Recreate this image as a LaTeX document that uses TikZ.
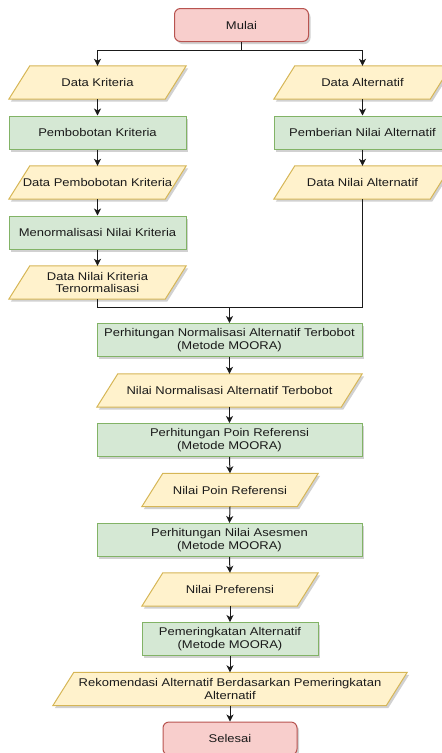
\documentclass[tikz,border=0pt]{standalone}
\usepackage{fontspec}
\setmainfont{Liberation Sans}[FakeStretch=1.16]
\usetikzlibrary{arrows.meta,shadows,calc}
\pgfdeclarelayer{background}
\pgfsetlayers{background,main}

\definecolor{gfill}{HTML}{D5E8D4}
\definecolor{gline}{HTML}{82B366}
\definecolor{yfill}{HTML}{FFF2CC}
\definecolor{yline}{HTML}{D6B656}
\definecolor{rfill}{HTML}{F8CECC}
\definecolor{rline}{HTML}{B85450}
\definecolor{ink}{HTML}{1A1A1A}

\tikzset{
  shad/.style={drop shadow={shadow xshift=2pt,shadow yshift=-2.5pt,fill=black,opacity=0.18}},
  base/.style={font=\fontsize{11.2}{12.7}\selectfont, align=center, inner sep=0pt, minimum height=33pt, text=ink},
  proc/.style={base, rectangle, draw=gline, fill=gfill, line width=1pt, shad},
  term/.style={base, rectangle, rounded corners=6pt, draw=rline, fill=rfill, line width=1pt, shad},
  io/.style={base, rectangle},
  iofill/.style={draw=yline, fill=yfill, line width=1pt, shad},
  ln/.style={draw=ink, line width=1pt},
  arr/.style={draw=ink, line width=1pt, -{Stealth[length=7pt,width=7pt,inset=2pt]}},
}

\newcommand{\ioshape}[1]{%
  \begin{pgfonlayer}{background}
  \path[iofill] ([xshift=21pt]#1.north west) -- (#1.north east) -- ([xshift=-21pt]#1.south east) -- (#1.south west) -- cycle;
  \end{pgfonlayer}}

\begin{document}
\begin{tikzpicture}[x=1pt,y=-1pt]
\useasboundingbox (0,0) rectangle (442,753);

% start
\node[term, minimum width=134pt] (mulai) at (241.5,25) {Mulai};

% left column
\node[io, minimum width=177pt] (dk) at (97.5,82.5) {Data Kriteria};
\ioshape{dk}
\node[proc, minimum width=177pt] (pk) at (97.5,132.5) {Pembobotan Kriteria};
\node[io, minimum width=177pt] (dpk) at (97.5,182.5) {Data Pembobotan Kriteria};
\ioshape{dpk}
\node[proc, minimum width=177pt] (mnk) at (97.5,232.5) {Menormalisasi Nilai Kriteria};
\node[io, minimum width=177pt] (dnk) at (97.5,282.5) {Data Nilai Kriteria\\Ternormalisasi};
\ioshape{dnk}

% right column
\node[io, minimum width=177pt] (da) at (362.5,82.5) {Data Alternatif};
\ioshape{da}
\node[proc, minimum width=177pt] (pna) at (362.5,132.5) {Pemberian Nilai Alternatif};
\node[io, minimum width=177pt] (dna) at (362.5,182.5) {Data Nilai Alternatif};
\ioshape{dna}

% main column
\coordinate (join) at (229.5,307);
\node[proc, minimum width=265pt] (pnat) at (229.5,340) {Perhitungan Normalisasi Alternatif Terbobot\\(Metode MOORA)};
\node[io, minimum width=265pt] (nnat) at (229.5,390.5) {Nilai Normalisasi Alternatif Terbobot};
\ioshape{nnat}
\node[proc, minimum width=265pt] (ppr) at (229.5,440) {Perhitungan Poin Referensi\\(Metode MOORA)};
\node[io, minimum width=176pt] (npr) at (230,490) {Nilai Poin Referensi};
\ioshape{npr}
\node[proc, minimum width=265pt] (pas) at (229.5,540) {Perhitungan Nilai Asesmen\\(Metode MOORA)};
\node[io, minimum width=176pt] (npref) at (230,589.5) {Nilai Preferensi};
\ioshape{npref}
\node[proc, minimum width=176pt] (pa) at (230,639) {Pemeringkatan Alternatif\\(Metode MOORA)};
\node[io, minimum width=354pt] (rek) at (230,689) {Rekomendasi Alternatif Berdasarkan Pemeringkatan\\Alternatif};
\ioshape{rek}
\node[term, minimum width=134pt] (sel) at (230,738.5) {Selesai};

% connectors
\draw[arr] (mulai.south) -- ++(0,8) -| (dk.north);
\draw[arr] (mulai.south) -- ++(0,8) -| (da.north);
\draw[arr] (dk.south) -- (pk.north);
\draw[arr] (pk.south) -- (dpk.north);
\draw[arr] (dpk.south) -- (mnk.north);
\draw[arr] (mnk.south) -- (dnk.north);
\draw[arr] (da.south) -- (pna.north);
\draw[arr] (pna.south) -- (dna.north);
\draw[ln] (dnk.south) |- (join);
\draw[ln] (dna.south) |- (join);
\draw[arr] (join) -- (pnat.north);
\draw[arr] (pnat.south) -- (nnat.north);
\draw[arr] (nnat.south) -- (ppr.north);
\draw[arr] (ppr.south) -- (npr.north);
\draw[arr] (npr.south) -- (pas.north);
\draw[arr] (pas.south) -- (npref.north);
\draw[arr] (npref.south) -- (pa.north);
\draw[arr] (pa.south) -- (rek.north);
\draw[arr] (rek.south) -- (sel.north);
\end{tikzpicture}
\end{document}
